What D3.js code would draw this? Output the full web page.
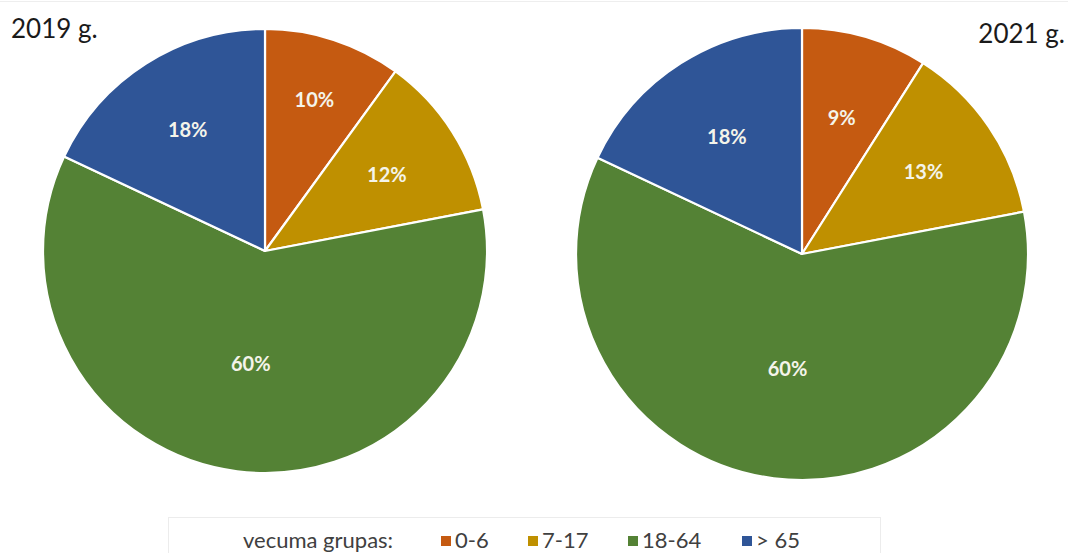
<!DOCTYPE html>
<html>
<head>
<meta charset="utf-8">
<script src="https://cdn.jsdelivr.net/npm/d3@7"></script>
<style>
  html, body { margin: 0; padding: 0; background: #fff; }
  svg { display: block; }
</style>
</head>
<body>
<svg id="chart" width="1068" height="553"></svg>
<script>
// Age groups and their shares (%) in each year
const categories = ["0-6", "7-17", "18-64", "> 65"];
const values2019 = [10, 12, 60, 18];
const values2021 = [9, 13, 60, 18];
const yearLabels = ["2019 g.", "2021 g."];
const legendTitle = "vecuma grupas:";

const palette = ["#C55A11", "#BF9000", "#548235", "#2F5597"];
const font = "Lato, 'Open Sans', sans-serif";

const svg = d3.select("#chart");
const W = 1068, H = 553;

// faint frame line along the top of the chart area
svg.append("line").attr("x1", 0).attr("x2", W).attr("y1", 1.5).attr("y2", 1.5)
  .attr("stroke", "#eeeeee").attr("stroke-width", 1);

const color = d3.scaleOrdinal().domain(categories).range(palette);

const pie = d3.pie().sort(null).value(d => d.value);

const charts = [
  { values: values2019, cx: 265, cy: 251, r: 222, labelFrac: [0.72, 0.65, 0.51, 0.65],
    title: yearLabels[0], tx: 11, ty: 38, anchor: "start" },
  { values: values2021, cx: 802, cy: 254, r: 226, labelFrac: [0.63, 0.65, 0.51, 0.62],
    title: yearLabels[1], tx: 1065, ty: 43, anchor: "end" }
];

charts.forEach(c => {
  const data = categories.map((k, i) => ({ key: k, value: c.values[i] }));
  const arcs = pie(data);
  const arc = d3.arc().innerRadius(0).outerRadius(c.r);
  const g = svg.append("g").attr("transform", `translate(${c.cx},${c.cy})`);

  g.selectAll("path").data(arcs).join("path")
    .attr("d", arc)
    .attr("fill", d => color(d.data.key))
    .attr("stroke", "#ffffff")
    .attr("stroke-width", 2.2)
    .attr("stroke-linejoin", "round");

  g.selectAll("text").data(arcs).join("text")
    .attr("transform", (d, i) => {
      const lr = c.r * c.labelFrac[i];
      const p = d3.arc().innerRadius(lr).outerRadius(lr).centroid(d);
      return `translate(${p[0]},${p[1]})`;
    })
    .attr("text-anchor", "middle")
    .attr("dominant-baseline", "central")
    .attr("font-family", font)
    .attr("font-weight", "bold")
    .attr("font-size", 20)
    .attr("fill", "#f4f4ea")
    .text(d => d.data.value + "%");

  svg.append("text")
    .attr("x", c.tx).attr("y", c.ty)
    .attr("text-anchor", c.anchor)
    .attr("font-family", font)
    .attr("font-size", 26)
    .attr("fill", "#1a1a1a")
    .text(c.title);
});

// legend
const legend = svg.append("g");
legend.append("rect")
  .attr("x", 168.5).attr("y", 517.5).attr("width", 712).attr("height", 50)
  .attr("fill", "none").attr("stroke", "#ececec");

const legendY = 539;
legend.append("text")
  .attr("x", 243).attr("y", legendY)
  .attr("dominant-baseline", "central")
  .attr("font-family", font).attr("font-size", 22).attr("fill", "#404040")
  .text(legendTitle);

const xs = { "0-6": 441, "7-17": 528, "18-64": 628, "> 65": 742 };
const items = legend.selectAll("g.item").data(categories).join("g")
  .attr("class", "item")
  .attr("transform", d => `translate(${xs[d]},${legendY})`);
items.append("rect")
  .attr("x", 0).attr("y", -3).attr("width", 10).attr("height", 10)
  .attr("fill", d => color(d));
items.append("text")
  .attr("x", 14).attr("y", 0)
  .attr("dominant-baseline", "central")
  .attr("font-family", font).attr("font-size", 22).attr("fill", "#404040")
  .text(d => d);
</script>
</body>
</html>
